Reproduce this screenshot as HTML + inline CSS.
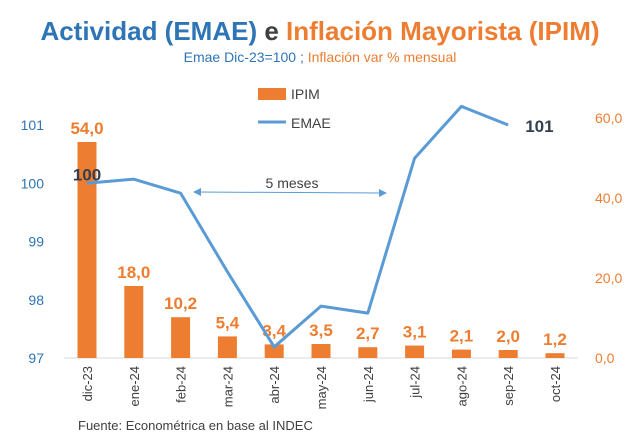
<!DOCTYPE html>
<html><head><meta charset="utf-8"><style>
body{margin:0;background:#fff;width:640px;height:436px;overflow:hidden;font-family:"Liberation Sans",sans-serif}
</style></head><body>
<svg width="640" height="436" id="c">
<text x="320" y="40" text-anchor="middle" font-size="26" font-weight="bold"><tspan fill="#2e75b6">Actividad (EMAE)</tspan><tspan fill="#404040"> e </tspan><tspan fill="#ed7d31">Inflación Mayorista (IPIM)</tspan></text>
<text x="320" y="62" text-anchor="middle" font-size="14"><tspan fill="#2e75b6">Emae Dic-23=100 ; </tspan><tspan fill="#ed7d31">Inflación var % mensual</tspan></text>
<rect x="258" y="88" width="28" height="12" fill="#ed7d31"/>
<text x="291" y="99" font-size="14" fill="#404040">IPIM</text>
<line x1="258" y1="122" x2="286" y2="122" stroke="#5b9bd5" stroke-width="3"/>
<text x="291" y="128" font-size="14" fill="#404040">EMAE</text>
<line x1="64" y1="358" x2="578" y2="358" stroke="#d9d9d9"/>
<g id="g"></g>
<line x1="196" y1="192" x2="384" y2="193" stroke="#5b9bd5" stroke-width="1"/>
<path d="M193 192 l8 -4 v8z M387 193 l-8 -4 v8z" fill="#5b9bd5"/>
<text x="292" y="188" text-anchor="middle" font-size="14" fill="#404040">5 meses</text>
<text x="78" y="430" font-size="13" fill="#404040">Fuente: Econométrica en base al INDEC</text>
</svg>
<script>
const categories=["dic-23","ene-24","feb-24","mar-24","abr-24","may-24","jun-24","jul-24","ago-24","sep-24","oct-24"];
const ipim=[54.0,18.0,10.2,5.4,3.4,3.5,2.7,3.1,2.1,2.0,1.2];
const emae=[100,100.07,99.83,98.48,97.19,97.89,97.77,100.43,101.32,101.0];
const leftTicks=[97,98,99,100,101];
const rightTicks=[0,20,40,60];
const NS="http://www.w3.org/2000/svg",g=document.getElementById('g');
const x=i=>87+i*46.8;
const yL=v=>358-(v-97)*58.25;
const yR=v=>358-v*4;
function mk(t,a,txt){const e=document.createElementNS(NS,t);for(const k in a)e.setAttribute(k,a[k]);if(txt!=null)e.textContent=txt;g.appendChild(e);return e;}
leftTicks.forEach(v=>{const e=mk('text',{x:44,y:yL(v)+5,'text-anchor':'end','font-size':14,fill:'#2e75b6'},v);

});
rightTicks.forEach(v=>{const e=mk('text',{x:595,y:yR(v)+5,'font-size':14,fill:'#ed7d31'},v.toFixed(1).replace('.',','));

});
categories.forEach((c,i)=>{
const h=ipim[i]*4;
const b=mk('rect',{x:x(i)-9.5,y:358-h,width:19,height:h,fill:'#ed7d31'});


const l=mk('text',{x:x(i),y:yR(ipim[i])-8,'text-anchor':'middle','font-size':17,'font-weight':'bold',fill:'#ed7d31'},ipim[i].toFixed(1).replace('.',','));


const t=mk('text',{x:0,y:0,transform:`translate(${x(i)+5},366) rotate(-90)`,'text-anchor':'end','font-size':13,fill:'#404040'},c);


});
const p=mk('polyline',{points:emae.map((v,i)=>x(i)+','+yL(v)).join(' '),fill:'none',stroke:'#5b9bd5','stroke-width':3,'stroke-linejoin':'round'});


const a=mk('text',{x:x(0),y:yL(emae[0])-3,'text-anchor':'middle','font-size':17,'font-weight':'bold',fill:'#333f50'},'100');


const z=mk('text',{x:x(9)+17,y:yL(emae[9])+7,'font-size':17,'font-weight':'bold',fill:'#333f50'},'101');


</script>
</body></html>
